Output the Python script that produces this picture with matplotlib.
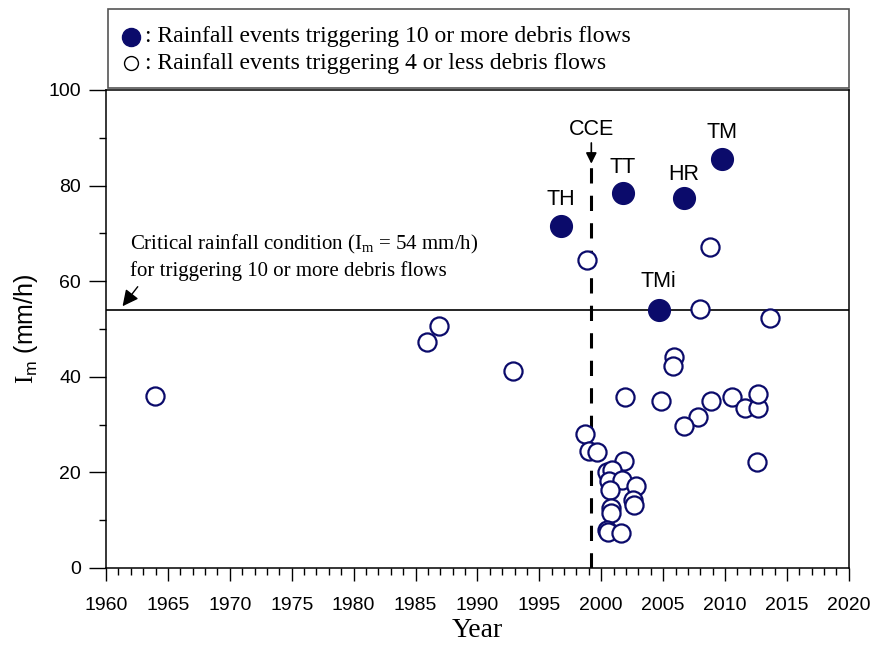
import matplotlib.pyplot as plt
from matplotlib.patches import Rectangle
from matplotlib.ticker import MultipleLocator

navy = "#0b0b6b"

# events triggering 10 or more debris flows
big_year = [1996.75, 2001.75, 2006.7, 2009.75, 2004.65]
big_im = [71.5, 78.5, 77.4, 85.5, 54.0]
big_name = ["TH", "TT", "HR", "TM", "TMi"]

# events triggering 4 or less debris flows
small_year = [1963.95, 1985.9, 1986.9, 1992.9, 1998.85, 2008.8, 2008.0, 2013.6,
              2005.9, 2005.8, 2004.8, 2001.9, 2008.9, 2010.6, 2007.8, 2006.7,
              2011.6, 2012.7, 2012.7, 2012.6,
              1998.65, 1999.05, 1999.65, 2001.8, 2000.5, 2000.85, 2000.65, 2001.7,
              2002.8, 2000.7, 2002.6, 2002.65, 2000.75, 2000.8, 2000.45, 2000.55,
              2001.6]
small_im = [36.0, 47.2, 50.6, 41.2, 64.5, 67.2, 54.2, 52.3,
            44.2, 42.2, 35.0, 35.7, 35.0, 35.7, 31.5, 29.8,
            33.5, 33.5, 36.3, 22.2,
            28.0, 24.5, 24.2, 22.3, 20.0, 20.6, 18.1, 18.4,
            17.1, 16.4, 14.2, 13.2, 12.6, 11.4, 8.0, 7.6,
            7.3]

critical = 54
cce_year = 1999.2

plt.rcParams['font.family'] = ['Liberation Sans', 'DejaVu Sans']
plt.rcParams['mathtext.fontset'] = 'custom'
plt.rcParams['mathtext.rm'] = 'Liberation Serif'
plt.rcParams['mathtext.sf'] = 'Liberation Sans'

fig = plt.figure(figsize=(8.76, 6.45), dpi=100)
ax = fig.add_axes([0.121, 0.1194, 0.848, 0.7411])

ax.scatter(small_year, small_im, s=170, facecolors="white", edgecolors=navy,
           linewidths=1.6, zorder=3)
ax.scatter(big_year, big_im, s=245, color=navy, zorder=4)

offsets = {"TH": 5.6, "TT": 5.3, "HR": 5.0, "TM": 5.6, "TMi": 6.0}
for x, y, name in zip(big_year, big_im, big_name):
    ax.text(x, y + offsets[name], name, ha="center", va="center", fontsize=15.5)

ax.axhline(critical, color="black", lw=1.2, zorder=2)
ax.plot([cce_year, cce_year], [0, 84], color="black", lw=2.2,
        dashes=(5, 4), zorder=2)
ax.annotate("", xy=(cce_year, 84), xytext=(cce_year, 89.5),
            arrowprops=dict(arrowstyle="-|>", color="black", lw=1.2,
                            mutation_scale=16))
ax.text(cce_year, 91.8, "CCE", ha="center", va="center", fontsize=15.5)

ax.annotate("", xy=(1961.2, 54.3), xytext=(1962.7, 59.3),
            arrowprops=dict(arrowstyle="-|>", color="black", lw=1.0,
                            mutation_scale=24))
ax.text(1961.9, 65.0, "Critical rainfall condition ($\\mathrm{I_m}$ = 54 mm/h)\n"
        "for triggering 10 or more debris flows",
        family="Liberation Serif", fontsize=15, va="center", ha="left",
        linespacing=1.35)

ax.set_xlim(1960, 2020)
ax.set_ylim(0, 100)
ax.xaxis.set_major_locator(MultipleLocator(5))
ax.xaxis.set_minor_locator(MultipleLocator(1))
ax.yaxis.set_major_locator(MultipleLocator(20))
ax.yaxis.set_minor_locator(MultipleLocator(10))
ax.tick_params(which="major", direction="out", length=9, width=1,
               labelsize=14, pad=12)
ax.tick_params(axis="y", which="major", length=12, pad=6)
ax.tick_params(which="minor", direction="out", length=5, width=1)
ax.tick_params(top=False, right=False)
for sp in ax.spines.values():
    sp.set_linewidth(1.1)

ax.set_xlabel("Year", family="Liberation Serif", fontsize=20, labelpad=3)
ax.set_ylabel("$\\mathrm{I}_{\\mathsf{m}}$ (mm/h)", fontsize=18, labelpad=6)

# legend box above the plot
box = Rectangle((0.1233, 0.8635), 0.8459, 0.1233, transform=fig.transFigure,
                facecolor="white", edgecolor="#555555", lw=1.2)
fig.patches.append(box)
fig.lines.append(plt.Line2D([0.1495], [0.943], transform=fig.transFigure,
                            marker="o", ms=13, color=navy, ls=""))
fig.lines.append(plt.Line2D([0.1495], [0.902], transform=fig.transFigure,
                            marker="o", ms=10, mfc="white", mec="black",
                            mew=1.0, ls=""))
fig.text(0.165, 0.943, ": Rainfall events triggering 10 or more debris flows",
         family="Liberation Serif", fontsize=17, va="center")
fig.text(0.165, 0.902, ": Rainfall events triggering 4 or less debris flows",
         family="Liberation Serif", fontsize=17, va="center")

fig.savefig("out.png", dpi=100)
